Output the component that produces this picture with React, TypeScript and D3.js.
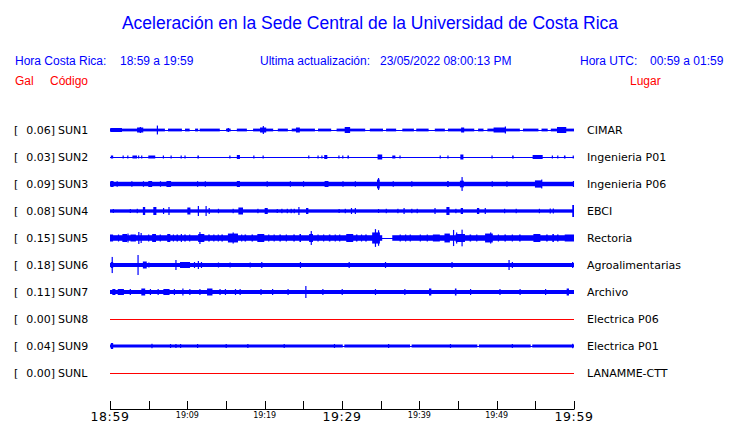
import React from "react";
import * as d3 from "d3";

// ---------- data ----------
const codes = ["SUN1", "SUN2", "SUN3", "SUN4", "SUN5", "SUN6", "SUN7", "SUN8", "SUN9", "SUNL"];
const places = ["CIMAR", "Ingenieria P01", "Ingenieria P06", "EBCI", "Rectoria", "Agroalimentarias", "Archivo", "Electrica P06", "Electrica P01", "LANAMME-CTT"];
const peakGal = [0.06, 0.03, 0.09, 0.08, 0.15, 0.18, 0.11, 0.0, 0.04, 0.0];
// background half-amplitude (Gal) of each record
const baseLevels = [0.025, 0, 0.04, 0.03, 0.05, 0.036, 0.036, 0, 0.027, 0];

// bursts: [minute after 18:59, half-amplitude (Gal), duration (min)]
const sun1Bursts = [
  [0.8, 0.036, 1.5], [3.9, 0.045, 0.8], [3.9, 0.054, 0.1], [6.1, 0.08, 0.1], [15.3, 0.036, 0.2],
  [19.8, 0.045, 0.8], [19.8, 0.072, 0.1], [24.3, 0.045, 0.5], [30.7, 0.054, 0.7], [45.6, 0.045, 0.4],
  [50.4, 0.045, 1.6], [51.1, 0.063, 0.1], [58.4, 0.054, 1.2],
];
const sun2Bursts = [
  [0.26, 0.027, 0.3], [1.7, 0.027, 0.15], [2.3, 0.027, 0.15], [3.2, 0.027, 0.6], [3.7, 0.027, 0.15],
  [4.1, 0.027, 0.15], [5.4, 0.027, 0.9], [6.9, 0.027, 0.15], [7.9, 0.027, 0.15], [9.2, 0.027, 0.15],
  [9.7, 0.027, 0.15], [11.4, 0.027, 0.2], [15.5, 0.027, 0.15], [16.6, 0.036, 0.4], [18.6, 0.027, 0.15],
  [19.8, 0.027, 0.15], [25.7, 0.027, 0.15], [26.9, 0.027, 0.15], [27.4, 0.027, 0.15], [27.9, 0.036, 0.4],
  [29.6, 0.027, 0.15], [30.1, 0.027, 0.15], [30.8, 0.027, 0.2], [34.9, 0.045, 0.6], [36.7, 0.027, 0.4],
  [37.5, 0.027, 0.15], [42.7, 0.027, 0.15], [43.7, 0.027, 0.15], [45.5, 0.045, 0.4], [49.4, 0.027, 0.15],
  [52.1, 0.027, 0.2], [55.3, 0.036, 1.3], [57.2, 0.027, 0.15], [57.9, 0.027, 0.15], [58.8, 0.027, 0.2],
  [59.9, 0.027, 0.15],
];
const sun3Bursts = [
  [0.26, 0.054, 0.4], [0.9, 0.05, 0.1], [2.8, 0.05, 0.1], [4.3, 0.05, 0.1], [5.2, 0.054, 0.5],
  [6.5, 0.05, 0.1], [7.6, 0.054, 0.6], [11.3, 0.05, 0.1], [12.3, 0.05, 0.1], [16.6, 0.054, 0.4],
  [20.3, 0.05, 0.1], [23.3, 0.05, 0.1], [25.0, 0.05, 0.1], [28.0, 0.054, 0.5], [30.1, 0.05, 0.1],
  [31.7, 0.05, 0.1], [34.7, 0.08, 0.35], [34.7, 0.108, 0.1], [36.6, 0.05, 0.1], [39.0, 0.05, 0.1],
  [43.7, 0.054, 0.2], [45.5, 0.06, 0.5], [45.5, 0.125, 0.1], [49.4, 0.05, 0.1], [51.3, 0.05, 0.1],
  [55.4, 0.065, 0.9], [55.8, 0.08, 0.1], [59.9, 0.054, 0.1],
];
const sun4Bursts = [
  [0.4, 0.036, 0.1], [2.6, 0.036, 0.1], [3.5, 0.04, 0.1], [4.4, 0.072, 0.3], [5.8, 0.072, 0.4],
  [6.9, 0.054, 0.1], [7.6, 0.072, 0.1], [10.2, 0.063, 0.4], [11.4, 0.09, 0.1], [12.4, 0.09, 0.1],
  [12.8, 0.054, 0.1], [14.0, 0.04, 0.1], [15.9, 0.04, 0.1], [16.9, 0.063, 0.6], [19.1, 0.04, 0.1],
  [20.2, 0.054, 0.4], [21.6, 0.036, 0.1], [22.2, 0.04, 0.1], [22.9, 0.04, 0.1], [23.4, 0.04, 0.1],
  [23.8, 0.04, 0.1], [24.4, 0.072, 0.1], [25.5, 0.054, 0.3], [29.6, 0.036, 0.1], [30.4, 0.04, 0.1],
  [31.2, 0.054, 0.1], [31.7, 0.054, 0.1], [34.7, 0.036, 0.1], [35.7, 0.04, 0.1], [37.2, 0.04, 0.1],
  [38.0, 0.054, 0.1], [39.0, 0.04, 0.1], [39.7, 0.04, 0.1], [42.0, 0.054, 0.1], [43.7, 0.072, 0.4],
  [44.7, 0.04, 0.1], [45.5, 0.054, 0.3], [47.6, 0.054, 0.3], [48.5, 0.054, 0.1], [51.0, 0.04, 0.1],
  [52.5, 0.04, 0.1], [55.5, 0.04, 0.1], [56.9, 0.045, 0.1], [57.3, 0.045, 0.1], [59.9, 0.108, 0.25],
];
const sun5Bursts = [
  [0.2, 0.063, 0.4], [1.1, 0.063, 0.15], [1.9, 0.072, 0.6], [2.3, 0.08, 0.1], [3.0, 0.063, 0.7],
  [3.7, 0.108, 0.1], [4.0, 0.09, 0.1], [5.0, 0.063, 0.15], [5.7, 0.072, 0.5], [6.5, 0.063, 0.15],
  [7.6, 0.072, 0.4], [8.2, 0.063, 0.15], [8.7, 0.063, 0.2], [9.2, 0.072, 0.1], [9.7, 0.063, 0.2],
  [10.3, 0.063, 0.15], [11.8, 0.072, 0.8], [11.6, 0.108, 0.1], [12.8, 0.063, 0.2], [13.4, 0.063, 0.1],
  [14.0, 0.063, 0.15], [14.5, 0.063, 0.2], [15.9, 0.08, 1.3], [15.9, 0.1, 0.1], [17.0, 0.063, 0.1],
  [17.5, 0.063, 0.2], [18.4, 0.063, 0.2], [19.5, 0.072, 0.9], [20.5, 0.063, 0.1], [21.2, 0.063, 0.1],
  [22.0, 0.063, 0.2], [22.8, 0.063, 0.15], [23.8, 0.063, 0.2], [24.6, 0.072, 0.2], [26.0, 0.072, 0.5],
  [26.0, 0.125, 0.1], [26.9, 0.063, 0.15], [27.6, 0.063, 0.1], [28.4, 0.063, 0.2], [29.1, 0.063, 0.1],
  [29.7, 0.063, 0.15], [31.0, 0.072, 0.9], [31.9, 0.063, 0.2], [32.5, 0.063, 0.1], [33.1, 0.063, 0.2],
  [34.4, 0.1, 1.0], [34.3, 0.16, 0.1], [34.7, 0.14, 0.1], [37.5, 0.063, 0.1], [38.2, 0.063, 0.1],
  [38.8, 0.063, 0.1], [40.1, 0.063, 0.1], [41.0, 0.063, 0.1], [42.2, 0.063, 0.9], [43.6, 0.08, 0.7],
  [44.4, 0.145, 0.1], [44.8, 0.1, 0.1], [45.3, 0.072, 1.2], [45.5, 0.15, 0.1], [46.6, 0.063, 0.2],
  [47.4, 0.063, 0.1], [49.0, 0.08, 1.0], [49.2, 0.1, 0.1], [50.2, 0.063, 0.1], [51.1, 0.063, 0.2],
  [52.0, 0.063, 0.1], [53.0, 0.063, 0.2], [55.2, 0.072, 0.9], [56.5, 0.063, 0.2], [57.3, 0.072, 0.2],
  [57.9, 0.063, 0.2], [59.4, 0.063, 1.2],
];
const sun6Bursts = [
  [0.26, 0.054, 0.3], [0.26, 0.145, 0.1], [3.6, 0.18, 0.1], [4.5, 0.063, 0.5], [5.0, 0.045, 0.1],
  [8.5, 0.09, 0.1], [9.7, 0.054, 1.3], [10.9, 0.054, 0.1], [11.4, 0.072, 0.1], [11.8, 0.054, 0.1],
  [14.0, 0.045, 0.1], [15.5, 0.045, 0.1], [18.1, 0.045, 0.1], [19.6, 0.054, 0.1], [24.6, 0.054, 0.1],
  [30.9, 0.054, 0.1], [35.6, 0.054, 0.1], [44.2, 0.054, 0.1], [51.6, 0.09, 0.15], [52.0, 0.054, 0.1],
  [59.8, 0.054, 0.1],
];
const sun7Bursts = [
  [0.5, 0.054, 0.4], [1.4, 0.054, 0.8], [2.6, 0.054, 0.1], [4.3, 0.063, 0.5], [5.2, 0.054, 0.1],
  [6.2, 0.054, 0.1], [7.3, 0.054, 0.8], [8.3, 0.054, 0.1], [9.4, 0.063, 0.1], [10.3, 0.054, 0.1],
  [11.6, 0.054, 0.1], [12.9, 0.063, 0.7], [14.2, 0.054, 0.1], [14.9, 0.054, 0.1], [16.2, 0.054, 0.1],
  [16.8, 0.054, 0.1], [19.5, 0.054, 0.1], [21.0, 0.054, 0.1], [23.0, 0.054, 0.1], [25.3, 0.108, 0.1],
  [27.5, 0.054, 0.1], [30.0, 0.054, 0.1], [34.3, 0.054, 0.1], [38.1, 0.054, 0.1], [41.4, 0.063, 0.3],
  [44.7, 0.063, 0.2], [46.6, 0.054, 0.1], [50.4, 0.054, 0.1], [53.0, 0.054, 0.1], [56.3, 0.054, 0.1],
  [59.2, 0.063, 0.3],
];
const sun8Bursts: number[][] = [];
const sun9Bursts = [
  [0.26, 0.054, 0.3], [5.4, 0.04, 0.1], [7.8, 0.036, 0.1], [8.5, 0.036, 0.1], [9.1, 0.036, 0.1],
  [11.3, 0.036, 0.1], [15.0, 0.036, 0.1], [17.8, 0.036, 0.1], [22.5, 0.036, 0.1], [29.0, 0.036, 0.1],
  [36.0, 0.036, 0.1], [44.0, 0.036, 0.1], [52.0, 0.036, 0.1], [59.8, 0.04, 0.1],
];
const sunLBursts: number[][] = [];
const burstsByStation = [sun1Bursts, sun2Bursts, sun3Bursts, sun4Bursts, sun5Bursts, sun6Bursts, sun7Bursts, sun8Bursts, sun9Bursts, sunLBursts];
// periods where the background drops to a thin trace: [start min, end min]
const sun1Gaps = [
  [7.1, 7.5], [9.3, 9.7], [10.3, 11.0], [11.4, 11.6], [14.2, 15.0], [15.6, 16.4], [17.7, 18.5],
  [21.1, 21.7], [23.0, 23.5], [26.5, 26.9], [28.6, 29.3], [33.0, 33.6], [35.3, 35.7], [37.0, 37.8],
  [39.3, 39.6], [41.2, 42.0], [43.3, 43.7], [47.1, 47.6], [48.3, 48.8], [53.0, 53.4], [55.4, 55.8],
  [56.6, 57.0],
];
const sun9Gaps = [[30.1, 30.3], [38.8, 39.0], [47.5, 47.7], [54.4, 54.6]];
const gapsByStation: number[][][] = [sun1Gaps, [], [], [], [[35.2, 36.5]], [], [], [], sun9Gaps, []];

const tickMinutes = [0, 5, 10, 15, 20, 25, 30, 35, 40, 45, 50, 55, 60];
const tickLabels = ["18:59", "19:09", "19:19", "19:29", "19:39", "19:49", "19:59"];
const labelMinutes = [0, 10, 20, 30, 40, 50, 60];
const majorLabels = ["18:59", "19:29", "19:59"];

const BLUE = "#0000ff";
const RED = "#ff0000";
const HEAD_FONT = "'Liberation Sans', Arial, sans-serif";
const LAB_FONT = "'DejaVu Sans', sans-serif";

export default function App() {
  const W = 740, H = 423;
  const x = d3.scaleLinear().domain([0, 60]).range([110, 574]);
  const row = d3.scalePoint<string>().domain(codes).range([130, 373]);
  const a = d3.scaleLinear().domain([-0.18, 0.18]).range([10, -10]);

  const baseSegments = (i: number) => {
    const gaps = gapsByStation[i];
    const segs: number[][] = [];
    let start = 0;
    gaps.forEach(([g0, g1]) => { segs.push([start, g0]); start = g1; });
    segs.push([start, 60]);
    return segs;
  };

  return (
    <svg width={W} height={H} style={{ position: "absolute", left: 0, top: 0, background: "#fff" }}>
      <text x={370} y={29} textAnchor="middle" fontFamily={HEAD_FONT} fontSize={17.5} fill={BLUE}>
        Aceleración en la Sede Central de la Universidad de Costa Rica
      </text>
      <g fontFamily={HEAD_FONT} fontSize={12} fill={BLUE}>
        <text x={15} y={65}>Hora Costa Rica:</text>
        <text x={120} y={65}>18:59 a 19:59</text>
        <text x={260} y={65}>Ultima actualización:</text>
        <text x={380} y={65}>23/05/2022 08:00:13 PM</text>
        <text x={580} y={65}>Hora UTC:</text>
        <text x={650} y={65}>00:59 a 01:59</text>
      </g>
      <g fontFamily={HEAD_FONT} fontSize={12} fill={RED}>
        <text x={15} y={85}>Gal</text>
        <text x={50} y={85}>Código</text>
        <text x={630} y={85}>Lugar</text>
      </g>

      {codes.map((c, i) => {
        const cy = row(c)!;
        const silent = peakGal[i] === 0;
        return (
          <g key={c}>
            <g fontFamily={LAB_FONT} fontSize={11} fill="#000">
              <text x={14} y={cy + 4}>[</text>
              <text x={55} y={cy + 4} textAnchor="end">{peakGal[i].toFixed(2)}]</text>
              <text x={58} y={cy + 4}>{c}</text>
              <text x={587} y={cy + 4}>{places[i]}</text>
            </g>
            <line x1={x(0)} x2={x(60)} y1={cy + 0.5} y2={cy + 0.5} stroke={silent ? RED : BLUE} strokeWidth={1} />
            {baseLevels[i] > 0 &&
              baseSegments(i).map(([s, e], k) => (
                <rect key={k} x={x(s)} width={x(e) - x(s)} y={cy + a(baseLevels[i])} height={a(-baseLevels[i]) - a(baseLevels[i])} fill={BLUE} />
              ))}
            {burstsByStation[i].map(([m, amp, w], k) => {
              const x0 = Math.max(x(0), x(m - w / 2));
              const x1 = Math.min(x(60), x(m + w / 2));
              return (
                <rect key={k} x={x0} width={Math.max(1.2, x1 - x0)} y={cy + a(amp)} height={a(-amp) - a(amp)} fill={BLUE} />
              );
            })}
          </g>
        );
      })}

      <g>
        <line x1={x(0)} x2={x(60)} y1={409.5} y2={409.5} stroke="#000" />
        {tickMinutes.map((m) => (
          <line key={m} x1={Math.round(x(m)) + 0.5} x2={Math.round(x(m)) + 0.5} y1={401} y2={409.5} stroke="#000" />
        ))}
        {labelMinutes.map((m, k) => {
          const major = majorLabels.includes(tickLabels[k]);
          return (
            <text key={m} x={x(m)} y={major ? 420.5 : 418} textAnchor="middle" fontFamily={LAB_FONT}
              fontSize={major ? 12.5 : 8} fill="#000" letterSpacing={major ? 0.6 : 0}>
              {tickLabels[k]}
            </text>
          );
        })}
      </g>
    </svg>
  );
}
